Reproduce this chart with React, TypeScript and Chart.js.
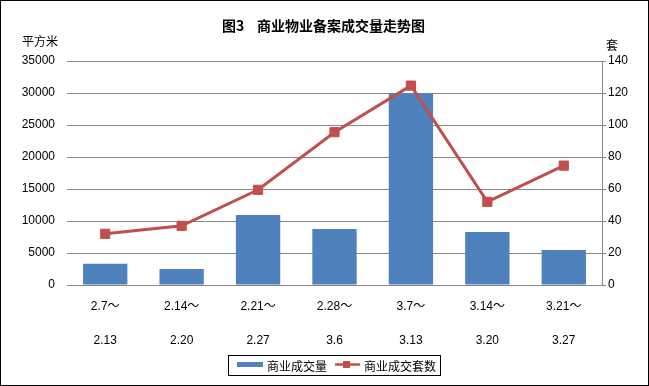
import React, { useEffect, useRef } from "react";
import { Chart, registerables } from "chart.js";

Chart.register(...registerables);

const TITLE_NO = "图3";
const TITLE = "商业物业备案成交量走势图";
const LEFT_UNIT = "平方米";
const RIGHT_UNIT = "套";
const rangeStart = ["2.7～", "2.14～", "2.21～", "2.28～", "3.7～", "3.14～", "3.21～"];
const rangeEnd = ["2.13", "2.20", "2.27", "3.6", "3.13", "3.20", "3.27"];
const areaName = "商业成交量";
const setsName = "商业成交套数";
const areaValues = [3330, 2500, 10950, 8750, 29950, 8280, 5470];
const setValues = [32, 37, 59.5, 95.5, 124.6, 52, 74.6];
const leftMax = 35000;
const leftStep = 5000;
const rightMax = 140;
const rightStep = 20;

const BAR = "#4F81BD";
const LINE = "#C0504D";
const GRID = "#868686";
const FONT = '"Liberation Sans", "Noto Sans CJK SC", sans-serif';
const CJK = '"Noto Sans CJK SC", sans-serif';

const decor = {
  id: "decor",
  beforeDraw(chart: any) {
    const ctx = chart.ctx;
    ctx.save();
    ctx.fillStyle = "#fff";
    ctx.fillRect(0, 0, chart.width, chart.height);
    ctx.restore();
  },
  afterDraw(chart: any) {
    const ctx = chart.ctx;
    ctx.save();
    ctx.strokeStyle = "#000";
    ctx.lineWidth = 1;
    ctx.strokeRect(0.5, 0.5, chart.width - 1, chart.height - 1);

    ctx.fillStyle = "#000";
    ctx.textBaseline = "middle";
    ctx.textAlign = "left";
    ctx.font = "bold 14px " + CJK;
    ctx.fillText(TITLE_NO, 222, 26);
    ctx.fillText(TITLE, 257, 26);

    ctx.font = "12px " + CJK;
    ctx.fillText(LEFT_UNIT, 22, 41);
    ctx.fillText(RIGHT_UNIT, 606, 45);

    // legend
    ctx.strokeRect(228.5, 355.5, 212, 20);
    ctx.fillStyle = BAR;
    ctx.fillRect(237, 362, 26, 5);
    ctx.fillStyle = "#000";
    ctx.font = "12px " + CJK;
    ctx.fillText(areaName, 267, 366);
    ctx.strokeStyle = LINE;
    ctx.lineWidth = 2.5;
    ctx.beginPath();
    ctx.moveTo(335, 364.5);
    ctx.lineTo(360, 364.5);
    ctx.stroke();
    ctx.fillStyle = LINE;
    ctx.fillRect(343, 361, 7, 7);
    ctx.fillStyle = "#000";
    ctx.fillText(setsName, 364, 366);
    ctx.restore();
  },
};

export default function App() {
  const ref = useRef<HTMLCanvasElement>(null);
  useEffect(() => {
    document.body.style.margin = "0";
    const labels = rangeStart.map((s, i) => [s, rangeEnd[i]]);
    const chart = new Chart(ref.current as HTMLCanvasElement, {
      data: {
        labels,
        datasets: [
          {
            type: "line",
            label: setsName,
            data: setValues,
            yAxisID: "y1",
            borderColor: LINE,
            backgroundColor: LINE,
            borderWidth: 3,
            pointStyle: "rect",
            pointRadius: 6.5,
            pointBorderWidth: 1,
            pointBackgroundColor: LINE,
            pointBorderColor: LINE,
            order: 1,
          } as any,
          {
            type: "bar",
            label: areaName,
            data: areaValues,
            yAxisID: "y",
            backgroundColor: BAR,
            categoryPercentage: 1,
            barPercentage: 0.58,
            order: 2,
          } as any,
        ],
      },
      options: {
        responsive: false,
        animation: false,
        layout: { padding: { top: 61, left: 0, right: 0, bottom: 0 } },
        plugins: { legend: { display: false }, tooltip: { enabled: false } },
        scales: {
          x: {
            offset: true,
            grid: { display: false, drawTicks: false },
            border: { display: true, color: GRID, width: 1 },
            ticks: {
              color: "#000",
              font: { family: FONT, size: 12, lineHeight: 34 / 12 },
              padding: 5,
              maxRotation: 0,
              autoSkip: false,
            },
            afterFit(scale: any) {
              scale.height = 101;
            },
          },
          y: {
            position: "left",
            min: 0,
            max: leftMax,
            ticks: {
              stepSize: leftStep,
              color: "#000",
              font: { family: FONT, size: 12 },
              padding: 12,
              callback: (v: any) => String(v),
            },
            grid: { color: GRID, drawTicks: false, lineWidth: 1 },
            border: { display: false },
            afterFit(scale: any) {
              scale.width = 67;
            },
          },
          y1: {
            position: "right",
            min: 0,
            max: rightMax,
            ticks: {
              stepSize: rightStep,
              color: "#000",
              font: { family: FONT, size: 12 },
              padding: 2,
              callback: (v: any) => String(v),
            },
            grid: { drawOnChartArea: false, drawTicks: true, tickLength: 4, color: GRID },
            border: { display: true, color: GRID, width: 1 },
            afterFit(scale: any) {
              scale.width = 47;
            },
          },
        },
      },
      plugins: [decor],
    });
    return () => chart.destroy();
  }, []);
  return <canvas ref={ref} width={649} height={386} style={{ display: "block" }} />;
}
